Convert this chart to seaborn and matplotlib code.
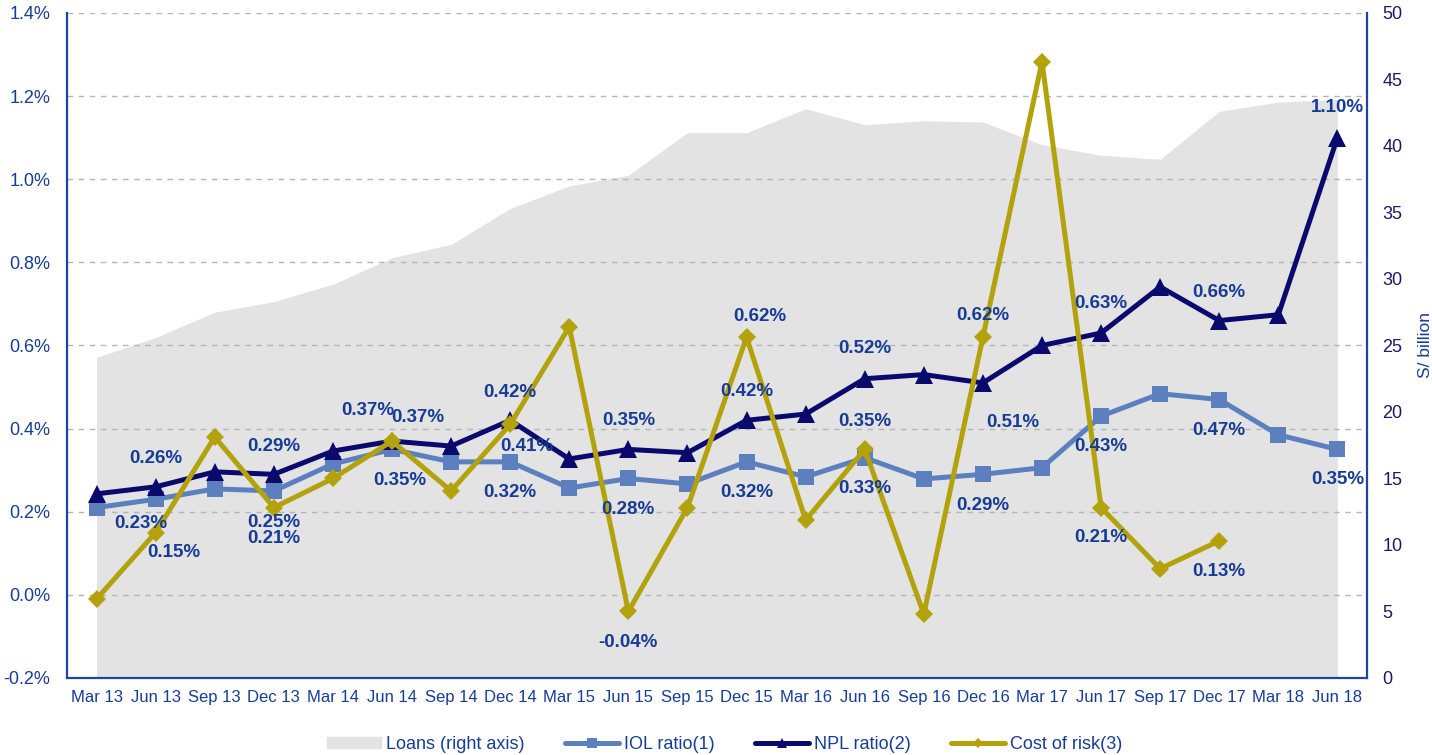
import numpy as np
import pandas as pd
import matplotlib
matplotlib.use("Agg")
import matplotlib.pyplot as plt
import seaborn as sns
from matplotlib.lines import Line2D
import matplotlib.patches as mpatches

# quarters on the x axis
quarters = ["Mar 13", "Jun 13", "Sep 13", "Dec 13", "Mar 14", "Jun 14", "Sep 14", "Dec 14",
            "Mar 15", "Jun 15", "Sep 15", "Dec 15", "Mar 16", "Jun 16", "Sep 16", "Dec 16",
            "Mar 17", "Jun 17", "Sep 17", "Dec 17", "Mar 18", "Jun 18"]

# ratios in %
iol = [0.21, 0.23, 0.255, 0.25, 0.315, 0.35, 0.32, 0.32, 0.257, 0.28, 0.267,
       0.32, 0.284, 0.33, 0.279, 0.29, 0.306, 0.43, 0.484, 0.47, 0.385, 0.35]
npl = [0.243, 0.26, 0.296, 0.29, 0.346, 0.37, 0.358, 0.42, 0.327, 0.35, 0.342,
       0.42, 0.435, 0.52, 0.53, 0.51, 0.60, 0.63, 0.741, 0.66, 0.674, 1.10]
cor = [-0.01, 0.15, 0.38, 0.21, 0.28, 0.37, 0.25, 0.41, 0.645, -0.04, 0.21,
       0.62, 0.18, 0.35, -0.046, 0.62, 1.283, 0.21, 0.063, 0.13, np.nan, np.nan]

# loans, S/ billion (right axis)
loans = [24.1, 25.6, 27.5, 28.3, 29.6, 31.6, 32.6, 35.3, 37.0, 37.8, 41.0,
         41.0, 42.8, 41.6, 41.9, 41.8, 40.1, 39.3, 39.0, 42.6, 43.3, 43.5]

# which points get a value label: (quarter index, dx px, dy px)
iol_lab = [(1, -15, -24), (3, 0, -32), (5, 8, -31), (7, 0, -31), (9, 0, -31), (11, 0, -31),
           (13, 0, -31), (15, 0, -31), (17, 0, -30), (19, 0, -31), (21, 0, -30)]
npl_lab = [(1, 0, 28), (3, 0, 28), (5, -24, 31), (7, 0, 28), (9, 0, 29), (11, 0, 29),
           (13, 0, 30), (15, 30, -40), (17, 0, 30), (19, 0, 28), (21, 0, 30)]
cor_lab = [(1, 18, -20), (3, 0, -31), (5, 26, 24), (7, 17, -22), (9, 0, -31), (11, 13, 21),
           (13, 0, 28), (15, 0, 22), (17, 0, -30), (19, 0, -31)]

c_iol = "#5b7fbf"
c_npl = "#0a0a6e"
c_cor = "#b3a20c"
c_area = "#e3e3e3"
c_txt = "#173c95"
c_spine = "#1f45a0"
c_rtick = "#1b1b66"

df = pd.DataFrame({"pos": np.arange(len(quarters)), "quarter": quarters,
                   "IOL": iol, "NPL": npl, "CoR": cor, "Loans": loans})

sns.set_style("white")
plt.rcParams["font.family"] = ["Liberation Sans", "DejaVu Sans"]

fig = plt.figure(figsize=(14.32, 7.55), dpi=100)
ax = fig.add_axes([0.0468, 0.102, 0.9078, 0.8808])
ax2 = ax.twinx()
ax.set_zorder(ax2.get_zorder() + 1)
ax.patch.set_visible(False)

# loans area on the right axis
ax2.fill_between(df["pos"], df["Loans"], color=c_area, lw=0)
ax2.set_ylim(0, 50)
ax2.set_yticks(range(0, 55, 5))
ax2.set_ylabel("S/ billion", color=c_txt, fontsize=12.5, labelpad=11)
ax2.tick_params(axis="y", length=0, pad=11, labelsize=13, labelcolor=c_rtick)

kw = dict(linewidth=3.6, markeredgewidth=0, ax=ax, legend=False)
sns.lineplot(data=df, x="pos", y="IOL", color=c_iol, marker="s", markersize=11, zorder=3, **kw)
sns.lineplot(data=df, x="pos", y="NPL", color=c_npl, marker="^", markersize=13, zorder=4, **kw)
sns.lineplot(data=df, x="pos", y="CoR", color=c_cor, marker="D", markersize=9, zorder=5, **kw)

for col, labs in [("IOL", iol_lab), ("NPL", npl_lab), ("CoR", cor_lab)]:
    for i, dx, dy in labs:
        v = df[col][i]
        ax.annotate("%.2f%%" % v, (i, v), xytext=(dx, dy), textcoords="offset pixels",
                    ha="center", va="center", fontsize=13.5, fontweight="bold",
                    color=c_txt, zorder=6)

ax.set_xlim(-0.5, len(quarters) - 0.5)
ax.set_ylim(-0.2, 1.4)
ax.set_yticks(np.arange(-0.2, 1.41, 0.2))
ax.set_yticklabels(["%.1f%%" % t for t in np.arange(-0.2, 1.41, 0.2)])
ax.set_xticks(df["pos"])
ax.set_xticklabels(quarters)
ax.set_xlabel("")
ax.set_ylabel("")
ax.tick_params(axis="y", length=0, pad=12, labelsize=13, labelcolor=c_txt)
ax.tick_params(axis="x", length=0, pad=9, labelsize=12, labelcolor=c_txt)
ax.grid(True, axis="y", linestyle=(0, (4, 4)), color="#b5b5b5", linewidth=1.0)
ax.grid(False, axis="x")
ax.set_axisbelow(True)

for a in (ax, ax2):
    for s in ["left", "right", "bottom"]:
        a.spines[s].set_color(c_spine)
        a.spines[s].set_linewidth(1.6)
    a.spines["top"].set_visible(False)
ax.spines["right"].set_visible(False)
ax2.spines["left"].set_visible(False)
ax2.spines["bottom"].set_visible(False)

handles = [
    mpatches.Patch(color=c_area, label="Loans (right axis)"),
    Line2D([0], [0], color=c_iol, lw=3.6, marker="s", markersize=7, markeredgewidth=0, label="IOL ratio(1)"),
    Line2D([0], [0], color=c_npl, lw=3.6, marker="^", markersize=7, markeredgewidth=0, label="NPL ratio(2)"),
    Line2D([0], [0], color=c_cor, lw=3.6, marker="D", markersize=5, markeredgewidth=0, label="Cost of risk(3)"),
]
leg = fig.legend(handles=handles, loc="center", bbox_to_anchor=(0.506, 0.014), ncol=4,
                 frameon=False, fontsize=13, handlelength=3.0, handleheight=0.6,
                 handletextpad=0.3, columnspacing=2.2)
for t in leg.get_texts():
    t.set_color(c_txt)

fig.savefig("out.png", dpi=100)
